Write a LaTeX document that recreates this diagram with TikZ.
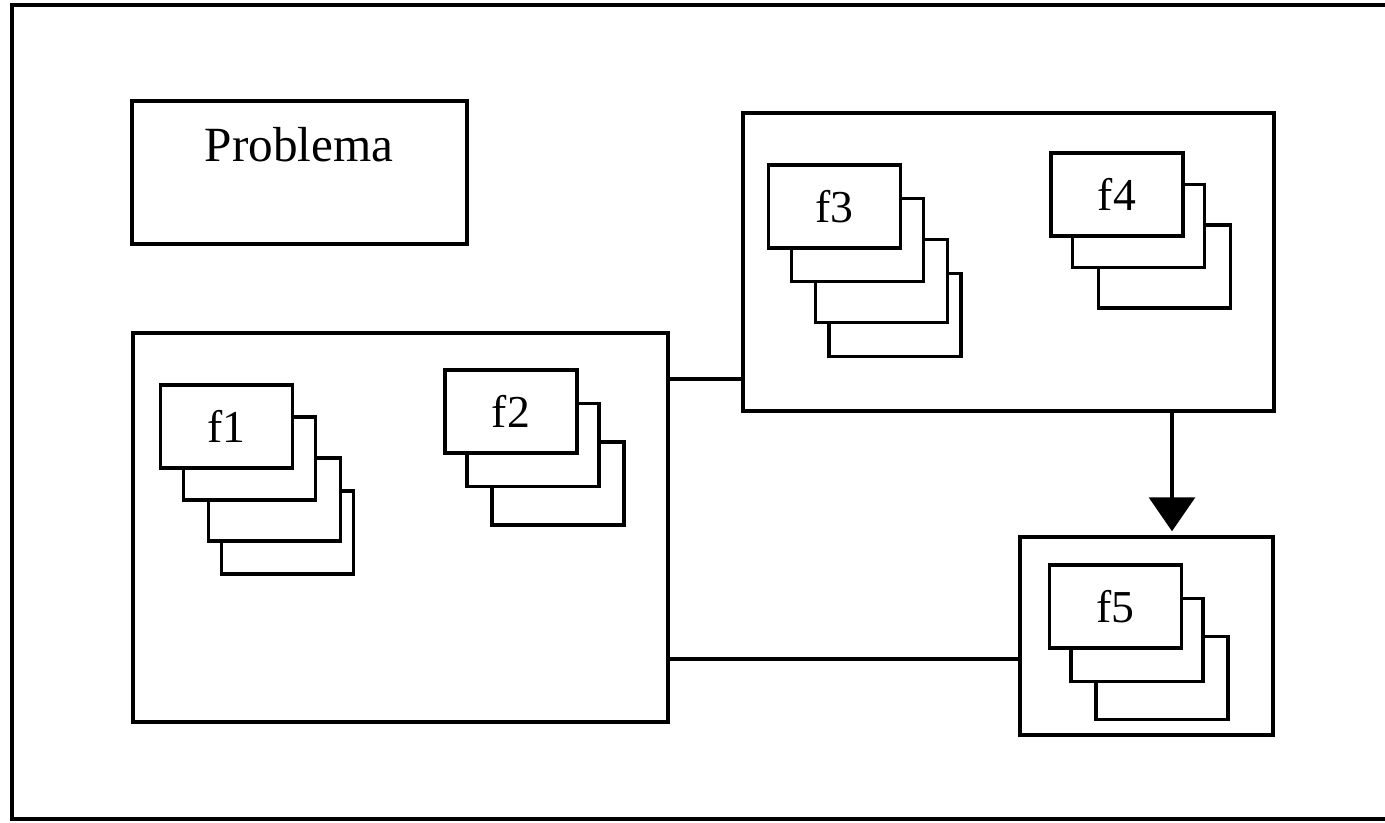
\documentclass[tikz,border=0pt]{standalone}
\usepackage{fontspec}
\setmainfont{Liberation Serif}
\usetikzlibrary{arrows.meta,positioning}

\begin{document}
\begin{tikzpicture}[line width=1pt,font=\fontsize{14}{16}\selectfont,
      group/.style={draw,inner sep=0pt},
      card/.style={draw,fill=white,minimum width=1.32cm,minimum height=.83cm,inner sep=0pt,
        font=\fontsize{13}{15}\selectfont},
      link/.style={draw},
      flow/.style={draw,-{Triangle[length=.34cm,width=.46cm]},shorten >=.04cm}]
      \clip (0,0) rectangle (13.85,-8.22);
      \draw (.12,-.05) rectangle (14.2,-8.19);
      % problem and groups
      \node[group,anchor=north west,minimum width=3.35cm,text height=.61cm,text depth=.82cm] (problema) at (1.30,-.99) {Problema};
      \node[group,minimum width=5.35cm,minimum height=3.89cm] (grpA) at (4.005,-5.275) {};
      \node[group,minimum width=5.31cm,minimum height=2.98cm] (grpB) at (10.085,-2.62) {};
      \node[group,minimum width=2.53cm,minimum height=1.98cm] (grpC) at (11.465,-6.36) {};
      % f1 stack
      \node[card] (f1d) at (2.875,-5.325) {};
      \node[card] (f1c) at (2.745,-4.995) {};
      \node[card] (f1b) at (2.495,-4.585) {};
      \node[card] (f1) at (2.265,-4.265) {f1};
      % f2 stack
      \node[card] (f2c) at (5.58,-4.835) {};
      \node[card] (f2b) at (5.33,-4.45) {};
      \node[card] (f2) at (5.11,-4.115) {f2};
      % f3 stack
      \node[card] (f3d) at (8.95,-3.15) {};
      \node[card] (f3c) at (8.815,-2.81) {};
      \node[card] (f3b) at (8.575,-2.40) {};
      \node[card] (f3) at (8.345,-2.065) {f3};
      % f4 stack
      \node[card] (f4c) at (11.645,-2.665) {};
      \node[card] (f4b) at (11.385,-2.26) {};
      \node[card] (f4) at (11.17,-1.945) {f4};
      % f5 stack
      \node[card] (f5c) at (11.62,-6.78) {};
      \node[card] (f5b) at (11.37,-6.40) {};
      \node[card] (f5) at (11.155,-6.065) {f5};
      % connectors
      \coordinate (j1) at (6.68,-3.79);
      \coordinate (j2) at (6.68,-6.59);
      \coordinate (j3) at (11.72,-4.11);
      \draw[link] (grpA.east |- j1) -- (grpB.west |- j1);
      \draw[link] (grpA.east |- j2) -- (grpC.west |- j2);
      \draw[flow] (grpB.south -| j3) -- (grpC.north -| j3);
    \end{tikzpicture}
\end{document}
